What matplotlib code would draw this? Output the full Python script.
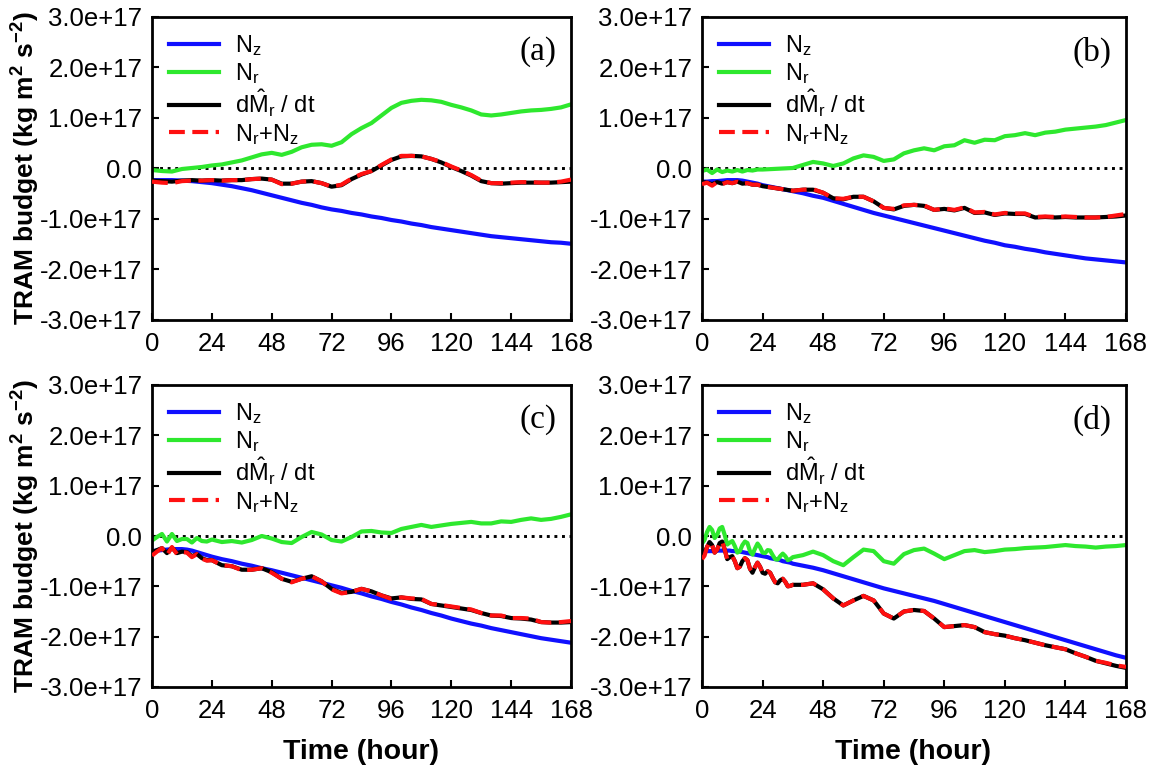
import numpy as np
import matplotlib
matplotlib.use('Agg')
import matplotlib.pyplot as plt
from matplotlib.ticker import FuncFormatter, FixedLocator

plt.rcParams['font.family'] = ['Liberation Sans', 'DejaVu Sans']
plt.rcParams['mathtext.fontset'] = 'custom'
plt.rcParams['mathtext.rm'] = 'Liberation Sans'
plt.rcParams['mathtext.it'] = 'Liberation Sans:italic'
plt.rcParams['mathtext.bf'] = 'Liberation Sans:bold'

UNIT = 1e17  # values below are in units of 1e17 kg m^2 s^-2

# ---------------- panel (a) ----------------
hours_a = list(range(0, 169, 4))
nz_a = [-0.23, -0.23, -0.23, -0.24, -0.25, -0.27, -0.29, -0.32, -0.35, -0.39, -0.43,
        -0.48, -0.53, -0.58, -0.63, -0.68, -0.72, -0.77, -0.81, -0.84, -0.88, -0.91,
        -0.95, -0.98, -1.02, -1.05, -1.09, -1.12, -1.16, -1.19, -1.22, -1.25, -1.28,
        -1.31, -1.34, -1.36, -1.38, -1.40, -1.42, -1.44, -1.46, -1.47, -1.49]
nr_a = [-0.03, -0.05, -0.06, -0.01, 0.01, 0.03, 0.06, 0.08, 0.12, 0.16, 0.22,
        0.28, 0.31, 0.27, 0.33, 0.42, 0.47, 0.48, 0.45, 0.52, 0.68, 0.80,
        0.90, 1.05, 1.20, 1.30, 1.34, 1.36, 1.35, 1.32, 1.26, 1.21, 1.15,
        1.07, 1.05, 1.07, 1.10, 1.13, 1.15, 1.16, 1.18, 1.21, 1.27]
dm_a = [-0.24, -0.25, -0.26, -0.24, -0.23, -0.24, -0.23, -0.24, -0.23, -0.23, -0.21,
        -0.20, -0.22, -0.30, -0.30, -0.26, -0.25, -0.29, -0.36, -0.33, -0.21, -0.12,
        -0.05, 0.06, 0.17, 0.24, 0.25, 0.24, 0.19, 0.12, 0.03, -0.05, -0.14,
        -0.25, -0.29, -0.30, -0.29, -0.28, -0.28, -0.28, -0.28, -0.27, -0.26]

# ---------------- panel (b) ----------------
hours_b = list(range(0, 25, 2)) + list(range(28, 169, 4))
nz_b = [-0.26, -0.26, -0.25, -0.25, -0.24, -0.23, -0.23, -0.23, -0.24, -0.26, -0.28, -0.30, -0.33,
        -0.37, -0.41, -0.45, -0.49, -0.54, -0.58, -0.64, -0.70, -0.76, -0.82, -0.88, -0.93,
        -0.98, -1.03, -1.08, -1.13, -1.18, -1.23, -1.28, -1.33, -1.38, -1.43, -1.47, -1.52,
        -1.55, -1.59, -1.62, -1.66, -1.69, -1.72, -1.75, -1.78, -1.80, -1.82, -1.84, -1.86]
nr_b = [-0.05, -0.02, -0.09, -0.02, -0.07, -0.04, -0.06, -0.03, -0.06, -0.03, -0.04, -0.02, -0.02,
        -0.01, 0.00, 0.01, 0.07, 0.13, 0.10, 0.05, 0.10, 0.20, 0.26, 0.23, 0.15,
        0.18, 0.30, 0.36, 0.40, 0.36, 0.44, 0.46, 0.56, 0.51, 0.57, 0.56, 0.64,
        0.66, 0.70, 0.66, 0.71, 0.73, 0.77, 0.79, 0.81, 0.83, 0.86, 0.91, 0.96]
dm_b = [-0.27, -0.28, -0.31, -0.27, -0.30, -0.27, -0.29, -0.26, -0.30, -0.29, -0.32, -0.32, -0.35,
        -0.38, -0.41, -0.44, -0.42, -0.42, -0.48, -0.59, -0.61, -0.56, -0.56, -0.65, -0.78,
        -0.81, -0.74, -0.72, -0.74, -0.82, -0.80, -0.83, -0.78, -0.88, -0.87, -0.92, -0.89,
        -0.90, -0.90, -0.97, -0.96, -0.97, -0.96, -0.97, -0.97, -0.97, -0.96, -0.95, -0.93]

# ---------------- panel (c) ----------------
hours_c = list(range(0, 25, 2)) + list(range(28, 169, 4))
nz_c = [-0.30, -0.29, -0.28, -0.27, -0.26, -0.26, -0.26, -0.27, -0.29, -0.32, -0.35, -0.38, -0.41,
        -0.46, -0.50, -0.55, -0.59, -0.64, -0.68, -0.73, -0.78, -0.83, -0.88, -0.93, -0.98,
        -1.03, -1.09, -1.14, -1.20, -1.25, -1.31, -1.36, -1.42, -1.47, -1.53, -1.58, -1.64,
        -1.69, -1.74, -1.78, -1.83, -1.87, -1.91, -1.95, -1.99, -2.03, -2.06, -2.09, -2.12]
nr_c = [-0.09, -0.02, 0.04, -0.11, 0.04, -0.10, -0.06, -0.06, -0.13, -0.04, -0.10, -0.11, -0.07,
        -0.12, -0.10, -0.13, -0.08, 0.00, -0.05, -0.12, -0.14, -0.02, 0.08, 0.03, -0.08,
        -0.11, -0.02, 0.09, 0.10, 0.07, 0.06, 0.14, 0.18, 0.22, 0.18, 0.21, 0.24,
        0.26, 0.28, 0.25, 0.25, 0.29, 0.28, 0.32, 0.35, 0.32, 0.34, 0.38, 0.43]
dm_c = [-0.32, -0.28, -0.24, -0.34, -0.23, -0.34, -0.31, -0.32, -0.40, -0.36, -0.44, -0.48, -0.48,
        -0.58, -0.60, -0.67, -0.67, -0.64, -0.72, -0.85, -0.91, -0.85, -0.80, -0.90, -1.05,
        -1.13, -1.11, -1.05, -1.10, -1.18, -1.24, -1.22, -1.25, -1.26, -1.35, -1.38, -1.41,
        -1.44, -1.47, -1.53, -1.58, -1.59, -1.63, -1.64, -1.66, -1.71, -1.72, -1.72, -1.71]

# ---------------- panel (d) ----------------
hours_d = list(range(0, 37, 1)) + list(range(40, 169, 4))
nz_d = [-0.31, -0.31, -0.30, -0.30, -0.30, -0.29, -0.29, -0.29, -0.29, -0.29,
        -0.29, -0.29, -0.30, -0.30, -0.31, -0.31, -0.32, -0.33, -0.34, -0.35,
        -0.36, -0.37, -0.38, -0.39, -0.40, -0.41, -0.42, -0.44, -0.45, -0.46,
        -0.47, -0.48, -0.50, -0.51, -0.52, -0.53, -0.55,
        -0.59, -0.63, -0.68, -0.74, -0.80, -0.86, -0.92, -0.98, -1.04, -1.09,
        -1.14, -1.19, -1.24, -1.29, -1.35, -1.41, -1.47, -1.53, -1.59, -1.65,
        -1.71, -1.77, -1.83, -1.89, -1.95, -2.01, -2.07, -2.13, -2.19, -2.25,
        -2.31, -2.37, -2.42]
nr_d = [-0.15, -0.08, 0.08, 0.18, 0.12, -0.04, 0.02, 0.15, 0.18, 0.02,
        -0.17, -0.13, -0.10, -0.20, -0.33, -0.30, -0.18, -0.11, -0.14, -0.30,
        -0.37, -0.25, -0.15, -0.22, -0.33, -0.34, -0.28, -0.29, -0.38, -0.46,
        -0.47, -0.40, -0.35, -0.40, -0.48, -0.46, -0.42,
        -0.38, -0.31, -0.38, -0.50, -0.58, -0.42, -0.27, -0.30, -0.50, -0.55,
        -0.36, -0.28, -0.25, -0.35, -0.46, -0.38, -0.30, -0.28, -0.32, -0.30,
        -0.27, -0.26, -0.24, -0.23, -0.22, -0.20, -0.18, -0.20, -0.21, -0.23,
        -0.21, -0.20, -0.18]
dm_d = [-0.36, -0.33, -0.22, -0.12, -0.18, -0.33, -0.27, -0.14, -0.11, -0.27,
        -0.46, -0.42, -0.40, -0.50, -0.64, -0.61, -0.50, -0.44, -0.48, -0.65,
        -0.73, -0.62, -0.53, -0.61, -0.73, -0.75, -0.70, -0.73, -0.83, -0.92,
        -0.94, -0.88, -0.85, -0.91, -1.00, -0.99, -0.97,
        -0.97, -0.94, -1.06, -1.24, -1.38, -1.28, -1.19, -1.28, -1.54, -1.64,
        -1.50, -1.47, -1.49, -1.64, -1.81, -1.79, -1.77, -1.81, -1.91, -1.95,
        -1.98, -2.03, -2.07, -2.12, -2.17, -2.21, -2.25, -2.33, -2.40, -2.48,
        -2.53, -2.58, -2.62]

panels = [
    ('(a)', hours_a, nz_a, nr_a, dm_a),
    ('(b)', hours_b, nz_b, nr_b, dm_b),
    ('(c)', hours_c, nz_c, nr_c, dm_c),
    ('(d)', hours_d, nz_d, nr_d, dm_d),
]

x_ticks = [0, 24, 48, 72, 96, 120, 144, 168]
y_ticks = [-3, -2, -1, 0, 1, 2, 3]

legend_labels = [r'$\mathrm{N_z}$', r'$\mathrm{N_r}$',
                 r'd$\hat{\mathrm{M}}_\mathrm{r}$ / dt', r'$\mathrm{N_r{+}N_z}$']

W, H = 1150, 774
fig = plt.figure(figsize=(W / 100, H / 100), dpi=100)

# axes boxes in pixels: (left, top, right, bottom)
boxes = [(152, 17, 571, 320), (702, 17, 1126, 320),
         (152, 385, 571, 687), (702, 385, 1126, 687)]

def yfmt(v, pos):
    if abs(v) < 1e-6:
        return '0.0'
    return '%.1e' % v

BLUE = '#1010ff'
GREEN = '#2ee82e'
RED = '#ff1010'
LW = 3.0

for (tag, hrs, nz, nr, dm), (l, t, r, b) in zip(panels, boxes):
    ax = fig.add_axes([l / W, 1 - b / H, (r - l) / W, (b - t) / H])
    hrs = np.array(hrs, dtype=float)
    nz = np.array(nz) * UNIT
    nr = np.array(nr) * UNIT
    dm = np.array(dm) * UNIT
    ax.axhline(0, color='black', lw=2.1, ls=(0, (1, 1.6)), zorder=1)
    ax.plot(hrs, nz, color=BLUE, lw=LW, label=legend_labels[0], zorder=2)
    ax.plot(hrs, nr, color=GREEN, lw=LW, label=legend_labels[1], zorder=2)
    ax.plot(hrs, dm, color='black', lw=LW, label=legend_labels[2], zorder=3)
    ax.plot(hrs, nr + nz, color=RED, lw=LW, ls=(0, (3.8, 1.8)),
            label=legend_labels[3], zorder=4)
    ax.set_xlim(0, 168)
    ax.set_ylim(-3 * UNIT, 3 * UNIT)
    ax.xaxis.set_major_locator(FixedLocator(x_ticks))
    ax.yaxis.set_major_locator(FixedLocator([v * UNIT for v in y_ticks]))
    ax.yaxis.set_major_formatter(FuncFormatter(yfmt))
    ax.tick_params(direction='in', length=5, width=1.5, labelsize=18.5)
    ax.tick_params(axis='x', pad=9)
    ax.tick_params(axis='y', pad=7)
    for s in ax.spines.values():
        s.set_linewidth(2.0)
    ax.text(0.965, 0.935, tag, transform=ax.transAxes, ha='right', va='top',
            family='Liberation Serif', fontsize=24)
    ax.legend(loc='upper left', frameon=False, fontsize=17, handlelength=2.15,
              handletextpad=0.65, labelspacing=0.1, borderaxespad=0.4,
              borderpad=0.3)

ylabel = r'TRAM budget (kg m$^\mathbf{2}$ s$^\mathbf{-2}$)'
fig.text(26 / W, 1 - 168 / H, ylabel, rotation=90, ha='center', va='center',
         fontsize=19, fontweight='bold')
fig.text(26 / W, 1 - 536 / H, ylabel, rotation=90, ha='center', va='center',
         fontsize=19, fontweight='bold')
fig.text(361 / W, 1 - 752 / H, 'Time (hour)', ha='center', va='center',
         fontsize=20.5, fontweight='bold')
fig.text(913 / W, 1 - 752 / H, 'Time (hour)', ha='center', va='center',
         fontsize=20.5, fontweight='bold')

fig.savefig('out.png', dpi=100)
